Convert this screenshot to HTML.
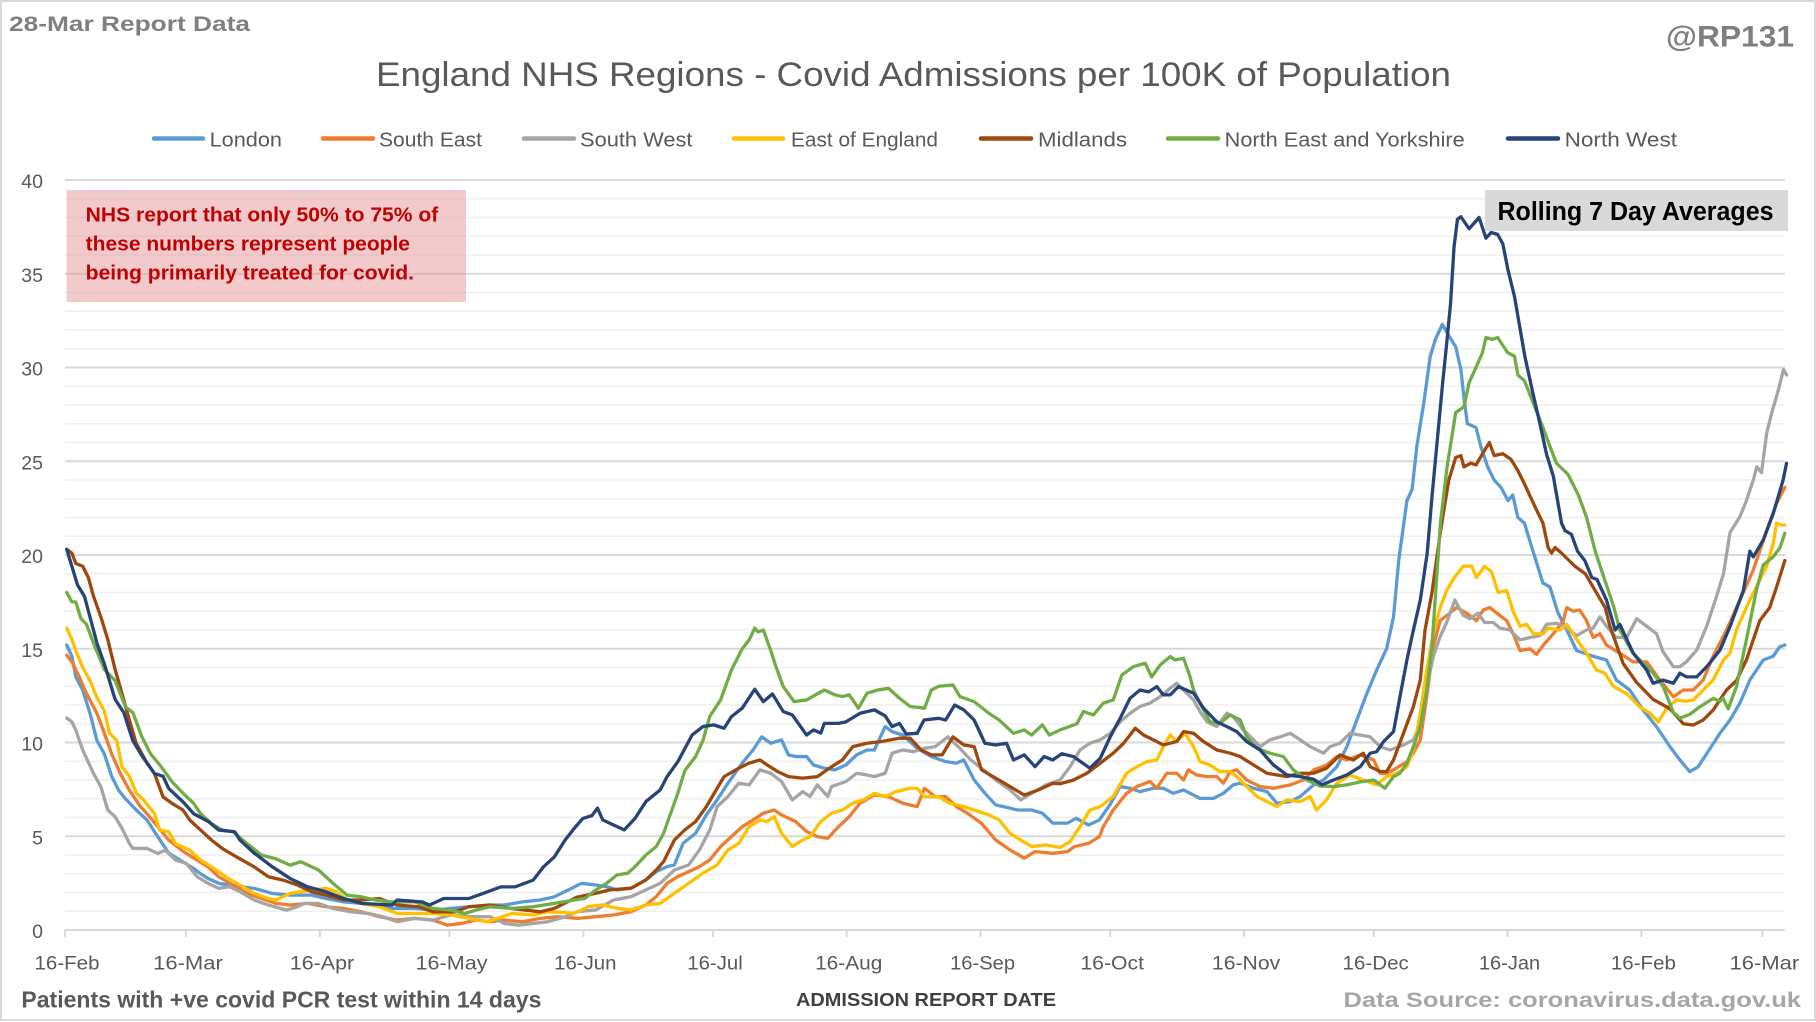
<!DOCTYPE html>
<html><head><meta charset="utf-8"><style>
html,body{margin:0;padding:0;background:#fff;}
svg{display:block;}
text{font-family:"Liberation Sans",Arial,sans-serif;}
</style></head><body>
<svg width="1816" height="1022" viewBox="0 0 1816 1022" xmlns="http://www.w3.org/2000/svg">
<rect x="1" y="1" width="1814" height="1019" fill="#fff" stroke="#d9d9d9" stroke-width="2"/>

<text x="9" y="31" font-size="21.5" font-weight="bold" fill="#7f7f7f" textLength="241" lengthAdjust="spacingAndGlyphs">28-Mar Report Data</text>
<text x="1666" y="46.5" font-size="30" font-weight="bold" fill="#7f7f7f" textLength="128" lengthAdjust="spacingAndGlyphs">@RP131</text>
<text x="376" y="86" font-size="34" fill="#595959" textLength="1075" lengthAdjust="spacingAndGlyphs">England NHS Regions - Covid Admissions per 100K of Population</text>

<!-- legend -->
<g stroke-width="4.5" stroke-linecap="round">
<line x1="154" y1="138.5" x2="203" y2="138.5" stroke="#5B9BD5"/>
<line x1="323" y1="138.5" x2="373" y2="138.5" stroke="#ED7D31"/>
<line x1="524" y1="138.5" x2="574" y2="138.5" stroke="#A5A5A5"/>
<line x1="734" y1="138.5" x2="783" y2="138.5" stroke="#FFC000"/>
<line x1="981" y1="138.5" x2="1031" y2="138.5" stroke="#9E480E"/>
<line x1="1168" y1="138.5" x2="1218" y2="138.5" stroke="#70AD47"/>
<line x1="1508" y1="138.5" x2="1558" y2="138.5" stroke="#264478"/>
</g>
<g font-size="20.5" fill="#595959">
<text x="209.6" y="146.5" textLength="72.4" lengthAdjust="spacingAndGlyphs">London</text>
<text x="379" y="146.5" textLength="103" lengthAdjust="spacingAndGlyphs">South East</text>
<text x="580" y="146.5" textLength="112.5" lengthAdjust="spacingAndGlyphs">South West</text>
<text x="791" y="146.5" textLength="147" lengthAdjust="spacingAndGlyphs">East of England</text>
<text x="1038" y="146.5" textLength="89" lengthAdjust="spacingAndGlyphs">Midlands</text>
<text x="1224.7" y="146.5" textLength="240" lengthAdjust="spacingAndGlyphs">North East and Yorkshire</text>
<text x="1564.6" y="146.5" textLength="112.4" lengthAdjust="spacingAndGlyphs">North West</text>
</g>

<!-- y labels -->
<g font-size="19.5" fill="#595959" text-anchor="end">
<text x="43" y="938">0</text>
<text x="43" y="844.25">5</text>
<text x="43" y="750.5">10</text>
<text x="43" y="656.75">15</text>
<text x="43" y="563">20</text>
<text x="43" y="469.25">25</text>
<text x="43" y="375.5">30</text>
<text x="43" y="281.75">35</text>
<text x="43" y="188">40</text>
</g>

<!-- plot -->
<g transform="matrix(4.319 0 0 -18.75 65 930)" fill="none">
<path vector-effect="non-scaling-stroke" stroke="#efefef" stroke-width="1.4" d="M0 1H398.2M0 2H398.2M0 3H398.2M0 4H398.2M0 6H398.2M0 7H398.2M0 8H398.2M0 9H398.2M0 11H398.2M0 12H398.2M0 13H398.2M0 14H398.2M0 16H398.2M0 17H398.2M0 18H398.2M0 19H398.2M0 21H398.2M0 22H398.2M0 23H398.2M0 24H398.2M0 26H398.2M0 27H398.2M0 28H398.2M0 29H398.2M0 31H398.2M0 32H398.2M0 33H398.2M0 34H398.2M0 36H398.2M0 37H398.2M0 38H398.2M0 39H398.2"/>
<path vector-effect="non-scaling-stroke" stroke="#d9d9d9" stroke-width="2" d="M0 5H398.2M0 10H398.2M0 15H398.2M0 20H398.2M0 25H398.2M0 30H398.2M0 35H398.2M0 40H398.2M0 0H398.2"/>
<g stroke-width="3.3" stroke-linejoin="round" stroke-linecap="round">
<polyline vector-effect="non-scaling-stroke" stroke="#5B9BD5" points="0.4,15.2 1.6,14.6 2.5,13.5 4.1,12.8 5.8,11.55 7.4,10.1 9.1,9.4 10.8,8.2 12.4,7.46 14,7 16.5,6.4 19,5.86 21.5,4.97 24,4.1 27.3,3.64 29.8,3.28 31.4,3 33.1,2.75 35.6,2.49 40.5,2.31 43.8,2.22 48,1.95 52.1,1.86 57.1,1.86 60.4,1.68 64.5,1.5 68.6,1.42 75.3,1.15 81,1.15 85.2,1.06 89.3,1.15 93.5,1.24 98.4,1.33 101.7,1.33 105.9,1.5 110,1.6 113.3,1.77 117.1,2.2 119.6,2.49 122.9,2.4 125.4,2.31 127.8,2.14 131.1,2.23 134.5,2.67 136.9,3.11 139.4,3.38 141.1,3.47 143.1,4.62 146,5.16 148.5,6.14 151,6.94 153.5,7.83 156.8,8.9 159.3,9.6 161.3,10.3 163.4,9.96 165.9,10.14 167.5,9.34 169.2,9.25 171.7,9.25 173.3,8.8 175.8,8.63 178.3,8.54 180.8,8.8 183.3,9.34 185.7,9.6 187.4,9.6 189.9,10.85 191.5,10.58 194,10.4 197.3,9.69 200.6,9.25 203.9,8.98 206.4,8.9 208.1,9.07 210.5,8 213,7.29 215.5,6.67 218.8,6.5 220.5,6.4 223.8,6.4 226.3,6.23 228.7,5.7 232.1,5.7 234.1,5.96 237,5.6 239.5,5.87 242,6.7 244.3,7.65 246.6,7.56 248.9,7.38 252,7.56 254.3,7.56 256.6,7.29 259,7.47 262.8,7.02 265.9,7.02 268.2,7.29 270.5,7.74 272.1,7.83 275.2,7.56 278.3,7.38 280.6,6.76 283.7,6.85 286,7.12 289.1,7.74 291.4,8 294.5,8.71 296.8,9.78 299.1,11.2 301.4,12.6 303.7,13.87 306,15 307.6,16.7 308.8,19.7 310.7,22.9 311.9,23.5 313,25.8 314.6,28.1 316.1,30.6 317.3,31.5 318.9,32.3 320.4,31.7 322,31.1 323.2,29.9 323.9,28.4 324.7,27 326.7,26.8 327.8,25.8 329.4,24.7 330.9,24 332.5,23.6 334.1,22.9 335.2,23.2 336.4,22 337.9,21.7 340.3,19.9 342.2,18.5 343.8,18.3 345.7,16.9 347.7,16 350,14.9 353.8,14.6 356.9,14.4 359.2,13.33 362.3,12.8 365.4,11.73 368.5,10.84 371.6,9.78 373.9,9.07 376.2,8.44 378.1,8.7 380.1,9.4 383.2,10.5 385.5,11.2 387.8,12.1 390.1,13.33 393.2,14.4 395.5,14.6 397,15.1 398.2,15.2"/>
<polyline vector-effect="non-scaling-stroke" stroke="#ED7D31" points="0.4,14.66 1.6,14.3 3.3,13.5 5,12.6 7.4,11.55 9.1,10.5 10.8,9.4 12.8,8.35 14.9,7.46 17.4,6.6 19,6.2 21.5,5.5 24,4.8 27.3,4.2 30.6,3.73 33.1,3.37 35.6,2.84 38.9,2.4 42.2,1.95 45.5,1.68 48.8,1.42 52.1,1.33 56.2,1.42 60.4,1.24 64.5,1.15 68.6,0.97 72.8,0.71 76.9,0.53 81,0.62 85.2,0.53 88.5,0.26 91.8,0.35 95.1,0.53 98.4,0.44 101.7,0.53 105.9,0.44 110,0.62 114.1,0.71 118.7,0.62 122.9,0.71 127,0.8 131.1,0.98 134.5,1.34 136.9,1.78 139.4,2.49 141.9,2.85 144.4,3.11 146.9,3.38 149.3,3.74 151.8,4.45 154.3,4.98 156.8,5.51 159.3,5.87 161.7,6.23 164.2,6.4 165.9,6.14 169.2,5.78 171.7,5.25 174.2,4.98 176.6,4.89 179.1,5.51 181.6,6.05 184.1,6.76 187.4,7.2 190.7,7.11 194,6.76 197.3,6.58 199,7.56 201.5,7.11 203.9,7.11 206.4,6.58 208.9,6.23 212.2,5.69 215.5,4.8 218.8,4.27 222.1,3.83 224.6,4.18 228.7,4.09 232.1,4.18 233.7,4.45 237,4.62 239.5,4.98 240.4,5.51 242.7,6.4 245.8,7.29 248.2,7.65 251.2,7.92 252.8,7.56 255.1,8.36 257.4,8.36 259,8 260.1,8.54 262,8.27 264.4,8.18 266.7,8.18 268.2,7.83 269.8,8.45 271.3,8.54 273.6,8 276.7,7.65 279.8,7.56 283.7,7.74 286.7,8 289.1,8.54 292.1,8.8 294.5,9.25 296.8,9.07 299.9,9.34 303,9.07 304.5,8.36 306,8.36 307.6,8.54 310.7,8.98 312.2,9.43 313.8,10.14 315.3,12.45 316.8,15.1 318.4,16.5 320.6,16.9 322.2,17.2 324.5,16.9 326.8,16.5 328.4,17.07 329.9,17.2 331.5,16.9 333.8,16.5 335.3,15.8 336.9,14.9 339.2,15 340.7,14.7 342.3,15.2 344.6,15.8 346.9,16.5 347.7,17.2 349.2,17 350.7,17.07 352.3,16.5 353.8,15.6 355.4,15.8 356.9,15.2 360,14.76 363.1,14.3 366.2,14.3 369.3,13.33 372.4,12.44 374.7,12.8 377,12.8 379.3,13.33 381.6,14.6 384.7,16 387.8,17.6 390.9,19.2 394,21.3 396.3,22.76 398.2,23.6"/>
<polyline vector-effect="non-scaling-stroke" stroke="#A5A5A5" points="0.4,11.3 1.6,11.1 2.5,10.66 4.1,9.6 6.6,8.35 8.3,7.64 9.9,6.4 11.6,6.04 13.2,5.42 14.9,4.62 15.7,4.35 19,4.35 21.5,4.08 23.2,4.26 25.6,3.73 28.1,3.55 30.6,2.84 33.1,2.49 35.6,2.22 38.1,2.31 40.5,2.04 43.8,1.6 47.1,1.33 51.3,1.06 53.8,1.24 55.4,1.42 58.7,1.42 62,1.15 66.2,0.97 70.3,0.88 73.6,0.71 76.9,0.44 81,0.62 85.2,0.53 89.3,0.8 93.5,0.71 98.4,0.71 101.7,0.35 105,0.26 108.4,0.35 111.7,0.44 115.8,0.7 118.7,0.98 122.9,1.07 127,1.6 131.1,1.78 134.5,2.14 137.8,2.49 141.1,3.2 144.4,3.47 146.9,4.27 149.3,5.34 151,6.58 153.5,7.12 156,7.83 158.4,7.74 160.9,8.54 163.4,8.36 165.9,7.92 168.4,6.94 170.8,7.38 172.5,7.12 174.2,7.74 176.6,7.12 177.5,7.65 180.8,7.92 183.3,8.36 185.7,8.27 187.4,8.18 189.9,8.36 191.5,9.43 194,9.6 196.5,9.51 199,9.69 201.5,9.78 204.4,10.3 207.2,9.69 209.7,9.07 212.2,8.63 215.5,8 218.8,7.47 221.3,6.94 223.8,7.29 227.1,7.74 230.4,8 232.7,8.71 235,9.6 237.3,9.96 239.7,10.14 242,10.49 244.3,11.1 246.6,11.56 248.9,11.92 251.2,12.1 253.6,12.45 255.9,12.89 257.4,13.16 259.7,12.63 261.3,12.27 262.8,11.65 264.4,11.1 266.7,10.85 269,11.56 270.5,11.38 272.8,10.67 275.2,10.14 276.7,9.78 279,10.14 281.3,10.3 283.7,10.49 286,10.14 288.3,9.78 291.4,9.43 292.9,9.78 295.2,9.96 297.5,10.49 299.9,10.4 302.2,10.3 304.5,9.78 306.8,9.6 309.9,9.87 312.2,10.14 313.8,11.03 315.3,12.98 316.8,14.58 318.4,15.65 319.9,16.4 321.8,17.6 323.7,16.8 325.3,16.6 327.2,16.9 328.7,16.4 330.7,16.4 332.2,16.1 334.5,16 336.9,15.47 339.2,15.6 341.5,15.7 343,16.3 345.3,16.36 347.7,16.1 350,15.7 352.3,16 353.8,16.1 355.4,16.7 356.9,16.2 359.2,15.6 361.6,15.6 363.9,16.6 366.2,16.2 368.5,15.8 370,14.84 372.4,14.04 373.9,14.04 375.4,14.3 377.8,14.93 380.1,16.2 382.4,17.8 384,19 385.5,21.2 387.8,22.04 389.3,22.9 390.9,24 391.7,24.7 392.8,24.4 394,26.5 395.2,27.6 396.7,28.8 397.9,29.9 398.6,29.6"/>
<polyline vector-effect="non-scaling-stroke" stroke="#FFC000" points="0.4,16.1 1.6,15.5 2.5,14.9 4.1,14 5.8,13.3 7.4,12.4 9.1,11.7 10.3,10.5 12,10.1 13.2,8.7 14.9,8.2 16.5,7.3 18.2,6.93 20.7,6.22 21.9,5.33 24,5.24 25.6,4.6 28.9,4.26 31.4,3.73 33.9,3.37 37.2,2.84 40.5,2.4 43.8,1.95 47.1,1.68 48.8,1.6 52.1,1.95 57.1,2.13 60.4,2.22 62.9,2.04 65.3,1.6 68.6,1.42 72.8,1.24 76.9,0.88 81,0.88 85.2,0.88 89.3,0.8 93.5,0.62 97.6,0.44 100.1,0.62 103.4,0.88 108.4,0.8 111.7,0.97 114.6,0.95 117.9,0.89 121.2,1.25 124.5,1.34 127.8,1.16 131.1,1.07 134.5,1.34 137.8,1.42 141.1,1.96 144.4,2.49 147.7,3.03 151,3.47 153.5,4.27 156,4.62 158.4,5.51 160.9,5.87 162.6,5.78 164.2,6.05 165.9,5.16 168.4,4.45 170.8,4.8 172.5,4.98 175,5.78 177.5,6.23 180,6.4 182.4,6.76 184.9,6.94 187.4,7.29 189.9,7.11 192.4,7.38 195.7,7.56 197.3,7.56 199,7.11 202.3,7.11 204.8,6.76 208.1,6.58 210.5,6.4 213.9,6.14 216.3,5.87 218.8,5.16 221.3,4.8 223.8,4.45 227.1,4.54 230.4,4.4 232.7,4.71 235,5.51 237.3,6.4 239.7,6.58 242.7,7.12 245.8,8.36 248.2,8.71 250.5,8.98 252.8,9.07 254.3,9.78 255.9,10.4 257.4,10.05 259.3,10.49 261.3,9.78 262.8,8.98 265.1,8.8 267.4,8.45 269.8,8.45 271.3,8.18 273.6,7.65 276,7.12 278.3,6.85 280.6,6.58 282.9,6.94 286,6.85 288.3,7.12 289.8,6.4 292.1,6.94 294.5,7.83 297.5,8.27 300.6,8 303.7,7.74 306,8.18 308.4,8.36 310.7,8.71 312.2,9.6 313.8,11.56 315.3,13.87 316.8,15.8 318.4,17.2 319.9,18.1 321.4,18.7 323.7,19.4 325.7,19.4 326.8,18.8 328.7,19.4 330.3,19.1 331.8,18 333.8,18.1 335.3,17 336.9,16.2 338.4,16.3 340,15.8 342.3,15.8 343.4,16.1 346.1,16 347.7,16.3 350,15.5 352.3,14.76 354.6,13.87 356.5,13.7 358.5,13 361.6,12.6 364.6,11.9 367,11.56 368.9,11.1 370.8,11.8 373.1,12.27 375.4,12.2 377,12.27 379.3,12.8 381.6,13.33 384,14.4 385.5,14.76 387,16 389.3,17.2 391.6,18.3 394,19.4 395.5,20.6 396.3,21.7 397.4,21.6 398.2,21.6"/>
<polyline vector-effect="non-scaling-stroke" stroke="#9E480E" points="0.4,20.3 1.6,20.1 2.5,19.55 4.1,19.4 5.4,18.8 6.6,17.8 8.3,16.7 9.9,15.5 11.6,13.9 13.2,12.6 14.9,11.2 16.5,9.95 19,8.9 20.7,8.35 22.7,7.1 24.8,6.75 27.3,6.4 28.9,5.86 31.4,5.33 33.9,4.8 36.4,4.35 39.7,3.9 43.8,3.37 47.1,2.84 50.5,2.66 53.8,2.4 57.1,2.04 60.4,1.86 64.5,1.6 68.6,1.6 72.8,1.68 76.9,1.33 81.9,1.24 85.2,0.97 90.2,0.97 93.5,1.24 98.4,1.33 103.4,1.15 110,0.97 113.3,1.15 118.5,1.75 122.9,1.96 126.2,2.14 131.1,2.23 134.5,2.67 136.9,3.2 138.6,3.65 141.1,4.8 143.5,5.34 146,5.78 148.5,6.58 151,7.56 152.6,8.18 156,8.63 158.4,8.9 160.9,9.07 162.6,8.8 165,8.45 167.5,8.18 170.8,8.1 174.2,8.18 177.5,8.71 180,9.07 182.4,9.78 185.7,9.96 189,10.05 193.2,10.23 195.7,10.23 198.2,9.6 200.6,9.34 203.1,9.34 205.6,10.3 208.1,9.87 210.5,9.78 212.2,8.54 215.5,8.1 218.8,7.65 222.1,7.2 225.4,7.47 228.7,7.82 230.4,7.8 233.5,8 236.6,8.36 239.7,8.9 242.7,9.43 245.1,9.96 247.8,10.76 249.7,10.4 252,10.14 254.3,9.87 257.4,10.05 259,10.58 261.3,10.49 263.6,10.05 266.7,9.6 269.8,9.43 272.1,9.25 275.2,8.8 278.3,8.36 282.9,8.18 286,8.36 289.1,8.36 292.1,8.63 295.2,9.34 298.3,9.07 300.6,9.43 302.2,8.71 304.5,8.45 306,8.45 307.6,9.07 309.9,10.49 312.2,11.92 313.8,13.34 314.9,16 316.5,18 318.5,21.3 320.4,24 322,25.2 323.2,25.3 323.9,24.7 325.5,24.9 326.7,24.8 328.2,25.4 329.8,26 330.9,25.3 332.9,25.4 334.8,25.1 336.4,24.5 337.9,23.8 340.3,22.6 342.2,21.7 343.4,20.4 344.2,20.1 345,20.4 346.5,20.1 349.6,19.4 352,19 354.3,18.1 356.6,17.2 357.7,16.2 360.8,14.2 363.9,13.2 367.7,12.3 371.6,11.8 374.7,11 377,10.93 379.3,11.2 381.6,11.73 384.7,12.8 387,13.3 389.3,14.4 392.4,16.5 394.7,17.2 396.3,18.3 398.2,19.7"/>
<polyline vector-effect="non-scaling-stroke" stroke="#70AD47" points="0.4,18 1.6,17.5 2.5,17.5 3.7,16.6 5,16.3 6.6,15.3 9.1,13.9 11.6,13.3 14,11.9 15.7,11.6 17.8,10.3 19.8,9.4 22.3,8.7 24.8,7.9 27.3,7.3 29.8,6.75 31.4,6.2 33.9,5.68 36.4,5.33 38.9,5.24 42.2,4.6 45.5,4 48.8,3.8 52.1,3.46 54.6,3.64 58.7,3.2 62,2.5 65.3,1.86 68.6,1.77 71.9,1.6 75.3,1.5 81,1.5 85.2,1.15 89.3,1.06 92.6,0.88 95.1,1.06 98.4,1.24 103.4,1.15 108.4,1.24 113.3,1.42 117.9,1.6 120.4,1.69 122.9,2.14 125.4,2.49 127.8,2.94 130.3,3.03 132,3.38 134.5,4 136.9,4.45 138.6,5.16 140.2,6.2 141.9,7.3 143.5,8.5 146,9.25 147.7,10.1 149.3,11.4 151.8,12.27 154.3,13.87 156.8,15 158.4,15.47 159.7,16.1 160.5,15.9 161.7,16 163.4,14.9 164.6,14.05 166.3,12.98 168.8,12.18 171.7,12.27 175.8,12.8 178.3,12.54 180,12.45 181.6,12.54 183.7,11.83 185.7,12.63 188.2,12.8 190.7,12.89 193.2,12.36 195.7,11.92 199,11.83 200.6,12.8 202.3,13 205.6,13.07 207.2,12.45 210.5,12.18 213.9,11.56 216.3,11.2 219.6,10.49 222.1,10.67 223.8,10.4 226.3,10.94 227.9,10.4 230.4,10.67 234.3,11 235.8,11.65 238.1,11.47 240.4,12.1 242.7,12.27 244.7,13.6 247.4,14.05 250.1,14.23 251.6,13.5 253.6,14.14 255.9,14.58 257,14.4 259,14.49 260.5,13.5 261.3,12.8 262.8,12.1 265.1,11.1 267.4,11.03 269.8,11.47 272.1,11.2 273.6,10.3 276,9.69 279,9.43 282.1,9.25 284.4,8.54 287.5,8 290.6,7.68 293.7,7.65 296.8,7.74 299.9,7.9 303,8 305.6,7.56 307.6,8.18 309.1,8.36 310.7,8.9 312.2,9.78 313.8,10.85 315.3,12.8 316.5,15.1 317.5,18.5 318.5,21.8 320,24.7 322,27.6 323.9,27.9 325.1,29.2 326.7,30 328.2,30.8 329,31.6 330.5,31.5 331.7,31.6 334,30.8 335.6,30.6 336.4,29.6 337.9,29.3 340.3,27.9 342.2,26.8 343.8,25.8 345.3,24.9 348,24.3 350.4,23.2 352.3,22 354.3,20.2 356.6,18.6 358.5,17.3 360,16 363.1,14.76 366.2,14.04 367.7,13.7 370,13 372.4,11.6 373.9,11.3 376.2,11.5 378.5,11.9 381.6,12.35 383.2,12.2 383.9,12.36 385.1,11.8 387,12.98 389.3,15.47 391.6,18.1 393.2,19.47 395.5,19.9 397.1,20.4 398.2,21.16"/>
<polyline vector-effect="non-scaling-stroke" stroke="#264478" points="0.4,20.3 2.9,18.4 4.5,17.8 7.4,15.3 9.1,14.2 11.6,12.3 13.6,11.6 15.7,10.1 17.8,9.3 20.7,8.35 22.7,8.2 24,7.55 27.3,6.84 29.8,6.2 33.1,5.8 35.6,5.33 39.3,5.24 40.5,4.8 43.8,4.1 48,3.37 52.1,2.75 56.2,2.3 60.4,2.04 64.5,1.68 68.6,1.42 75.7,1.33 76.9,1.6 82.7,1.5 84.4,1.33 87.7,1.68 93.5,1.68 96.8,1.95 100.9,2.3 104.2,2.3 108.4,2.66 110.8,3.37 113.3,3.9 115.8,4.8 117.9,5.42 119.9,5.95 122,6.1 123.3,6.5 124.5,5.87 127,5.6 129.5,5.34 132,5.96 134.5,6.85 137.8,7.47 139.4,8.18 141.9,8.98 145.2,10.4 147.7,10.85 150.2,10.94 152.6,10.76 154.3,11.38 156.8,11.83 159.7,12.84 161.7,12.18 163.8,12.59 166.3,11.65 168.4,11.47 171.7,10.4 173.3,10.67 175,10.5 175.8,11.02 179.1,11.02 180.8,11.1 184.1,11.56 187.4,11.74 189.9,11.42 191.5,10.85 193.2,11.02 194.8,10.45 197.3,10.49 198.9,11.2 202.3,11.29 203.9,11.2 206,12 208.1,11.74 210.5,11.2 213,9.96 215.5,9.87 218,9.96 219.6,9.07 222.1,9.34 224.6,8.71 226.7,9.25 228.7,9.07 230.8,9.4 233.5,9.25 237.3,8.63 239.7,9.16 242,10.3 244.3,11.29 246.6,12.36 248.9,12.8 250.9,12.7 252.8,12.98 254.3,12.54 255.9,12.54 257.8,12.98 261.3,12.63 263.6,11.83 266.7,11.1 269,10.85 271.3,10.58 273.6,10.05 276.7,9.6 279.8,8.8 282.9,8.27 286,8.18 289.1,8.04 291,7.74 293.7,8 296.8,8.27 299.9,8.71 302.2,9.43 303.7,9.51 305.3,10.05 307.6,10.58 309.1,12.45 310.7,14.4 312.2,16 313.8,17.6 315.4,20.1 316.5,23.1 318.9,29 320,31.5 320.8,33.4 321.6,36.4 322.4,37.9 323.2,38.04 325.1,37.4 327.4,38 329,36.9 330.2,37.2 331.7,37.1 332.9,36.6 334.1,35.2 335.6,33.8 338,30.6 339.9,28.6 341.5,27 343,25.4 344.6,24.2 346.5,21.7 347.3,21.3 348.8,21.1 350.2,20.2 351.9,19.7 353.5,18.8 354.7,18.7 356.9,17.6 358.9,16 360,16.3 363.1,14.76 366.2,13.87 367.7,13.16 370,13.33 372.4,13.16 373.9,13.7 375.4,13.5 377.8,13.5 380.1,14.04 383.2,14.93 385.5,16.18 388.6,18.1 390.1,20.2 390.9,19.9 393.2,20.8 395.5,22.2 397.8,24 398.6,24.9"/>
</g>
</g>

<!-- ticks -->
<path stroke="#d9d9d9" stroke-width="2" fill="none" d="M65 930V937M185.9 930V937M319.8 930V937M449.4 930V937M583.3 930V937M712.9 930V937M846.7 930V937M980.6 930V937M1110.2 930V937M1244.1 930V937M1373.7 930V937M1507.5 930V937M1641.4 930V937M1762.4 930V937"/>

<!-- x labels -->
<g font-size="19.5" fill="#595959" text-anchor="middle">
<text x="67" y="969.5" textLength="65" lengthAdjust="spacingAndGlyphs">16-Feb</text>
<text x="188" y="969.5" textLength="69.7" lengthAdjust="spacingAndGlyphs">16-Mar</text>
<text x="322" y="969.5" textLength="64.3" lengthAdjust="spacingAndGlyphs">16-Apr</text>
<text x="451.5" y="969.5" textLength="72" lengthAdjust="spacingAndGlyphs">16-May</text>
<text x="585.3" y="969.5" textLength="62.4" lengthAdjust="spacingAndGlyphs">16-Jun</text>
<text x="715" y="969.5" textLength="55.5" lengthAdjust="spacingAndGlyphs">16-Jul</text>
<text x="848.7" y="969.5" textLength="67.2" lengthAdjust="spacingAndGlyphs">16-Aug</text>
<text x="982.6" y="969.5" textLength="65" lengthAdjust="spacingAndGlyphs">16-Sep</text>
<text x="1112.2" y="969.5" textLength="63.6" lengthAdjust="spacingAndGlyphs">16-Oct</text>
<text x="1246.1" y="969.5" textLength="68.3" lengthAdjust="spacingAndGlyphs">16-Nov</text>
<text x="1375.7" y="969.5" textLength="66.3" lengthAdjust="spacingAndGlyphs">16-Dec</text>
<text x="1509.5" y="969.5" textLength="61.3" lengthAdjust="spacingAndGlyphs">16-Jan</text>
<text x="1643.4" y="969.5" textLength="65" lengthAdjust="spacingAndGlyphs">16-Feb</text>
<text x="1764.4" y="969.5" textLength="69.7" lengthAdjust="spacingAndGlyphs">16-Mar</text>
</g>

<!-- bottom texts -->
<text x="21.4" y="1007.3" font-size="23" font-weight="bold" fill="#595959" textLength="520" lengthAdjust="spacingAndGlyphs">Patients with +ve covid PCR test within 14 days</text>
<text x="796" y="1006" font-size="18.6" font-weight="bold" fill="#404040" textLength="260" lengthAdjust="spacingAndGlyphs">ADMISSION REPORT DATE</text>
<text x="1343.5" y="1007" font-size="21" font-weight="bold" fill="#a6a6a6" textLength="457.5" lengthAdjust="spacingAndGlyphs">Data Source: coronavirus.data.gov.uk</text>

<!-- annotation boxes -->
<rect x="66.6" y="190" width="399.4" height="112" fill="#E6959A" fill-opacity="0.5"/>
<g font-size="20" font-weight="bold" fill="#C00000">
<text x="85.7" y="221.7" textLength="352.6" lengthAdjust="spacingAndGlyphs">NHS report that only 50% to 75% of</text>
<text x="85.7" y="250.7" textLength="324.3" lengthAdjust="spacingAndGlyphs">these numbers represent people</text>
<text x="85.7" y="279.3" textLength="328.3" lengthAdjust="spacingAndGlyphs">being primarily treated for covid.</text>
</g>
<rect x="1485" y="190" width="303" height="41" fill="#d9d9d9"/>
<text x="1497.5" y="220" font-size="25.5" font-weight="bold" fill="#000" textLength="276" lengthAdjust="spacingAndGlyphs">Rolling 7 Day Averages</text>
</svg>
</body></html>
